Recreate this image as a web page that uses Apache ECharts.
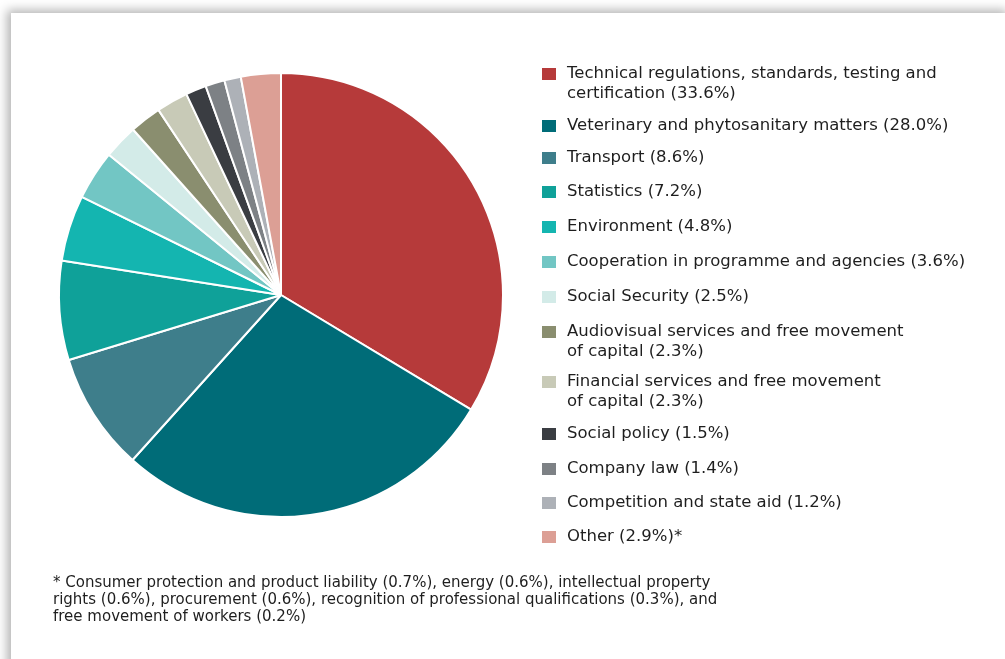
<!DOCTYPE html>
<html>
<head>
<meta charset="utf-8">
<script src="https://cdn.jsdelivr.net/npm/echarts@6/dist/echarts.min.js"></script>
<style>
  html, body { margin: 0; padding: 0; background: #fff; }
  #panel {
    position: absolute; left: 11px; top: 13px; width: 1000px; height: 660px;
    background: #fff; box-shadow: -4px -3px 10px rgba(0, 0, 0, 0.3);
  }
  #chart { position: absolute; left: 0; top: 0; width: 1005px; height: 659px; }
</style>
</head>
<body>
<div id="panel"></div>
<div id="chart"></div>
<script>
// share of screening topics, in %
const categories = [
  'Technical regulations, standards, testing and certification',
  'Veterinary and phytosanitary matters',
  'Transport',
  'Statistics',
  'Environment',
  'Cooperation in programme and agencies',
  'Social Security',
  'Audiovisual services and free movement of capital',
  'Financial services and free movement of capital',
  'Social policy',
  'Company law',
  'Competition and state aid',
  'Other'
];
const shares = [33.6, 28.0, 8.6, 7.2, 4.8, 3.6, 2.5, 2.3, 2.3, 1.5, 1.4, 1.2, 2.9];

// legend text as printed (line breaks where the original wraps)
const legendText = [
  'Technical regulations, standards, testing and\ncertification (33.6%)',
  'Veterinary and phytosanitary matters (28.0%)',
  'Transport (8.6%)',
  'Statistics (7.2%)',
  'Environment (4.8%)',
  'Cooperation in programme and agencies (3.6%)',
  'Social Security (2.5%)',
  'Audiovisual services and free movement\nof capital (2.3%)',
  'Financial services and free movement\nof capital (2.3%)',
  'Social policy (1.5%)',
  'Company law (1.4%)',
  'Competition and state aid (1.2%)',
  'Other (2.9%)*'
];

const footnote = '* Consumer protection and product liability (0.7%), energy (0.6%), intellectual property\n' +
  'rights (0.6%), procurement (0.6%), recognition of professional qualifications (0.3%), and\n' +
  'free movement of workers (0.2%)';

const colors = ['#b63a3a', '#006c78', '#3e7e8b', '#0fa199', '#14b5b0', '#72c6c4', '#d3ebe8',
  '#8a8e6f', '#c8cab7', '#3a3d42', '#7d8185', '#adb1b7', '#dc9f95'];

// vertical centre of each legend row (first line)
const legendRowY = [74, 126, 158, 192, 227, 262, 297, 332, 382, 434, 469, 503, 537];
const LINE_H = 20;

const chart = echarts.init(document.getElementById('chart'));

const legends = categories.map((name, i) => {
  const nLines = legendText[i].split('\n').length;
  // two-line entries get a blank line on top so the box sits beside the first line
  const label = nLines > 1 ? '\n' + legendText[i] : legendText[i];
  const blockLines = label.split('\n').length;
  return {
    data: [name],
    left: 540,
    top: legendRowY[i] - blockLines * LINE_H / 2,
    padding: 0,
    icon: 'rect',
    itemWidth: 16,
    itemHeight: 14,
    itemGap: 0,
    selectedMode: false,
    formatter: () => label,
    textStyle: {
      fontFamily: 'DejaVu Sans',
      fontSize: 16.5,
      color: '#1e1e1e',
      lineHeight: LINE_H,
      padding: [0, 0, 0, 5]
    }
  };
});

chart.setOption({
  animation: false,
  color: colors,
  legend: legends,
  graphic: [{
    type: 'text',
    left: 53,
    top: 575,
    style: {
      text: footnote,
      fontFamily: 'DejaVu Sans',
      fontSize: 15,
      lineHeight: 17,
      fill: '#1e1e1e'
    }
  }],
  series: [{
    type: 'pie',
    center: [281, 295],
    radius: 222,
    startAngle: 90,
    clockwise: true,
    label: { show: false },
    labelLine: { show: false },
    emphasis: { disabled: true },
    itemStyle: { borderColor: '#ffffff', borderWidth: 2 },
    data: categories.map((name, i) => ({ name: name, value: shares[i] }))
  }]
});
</script>
</body>
</html>
